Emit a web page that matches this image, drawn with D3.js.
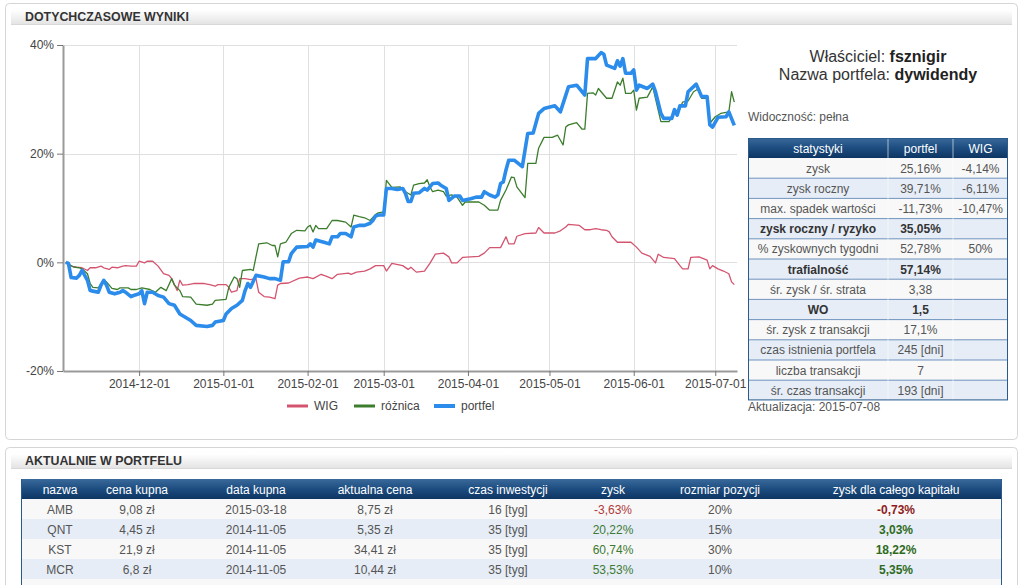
<!DOCTYPE html>
<html><head><meta charset="utf-8">
<script src="https://cdn.jsdelivr.net/npm/d3@7"></script>
<style>
html,body{margin:0;padding:0;background:#fff;}
body{width:1024px;height:585px;overflow:hidden;}
svg text{font-family:Arial,"Liberation Sans",sans-serif;}
</style></head><body>
<script>
// ---------------- DATA ----------------
const portfelDates = ["2014-11-04","2014-11-05","2014-11-06","2014-11-08","2014-11-09","2014-11-10","2014-11-11","2014-11-12","2014-11-13","2014-11-14","2014-11-16","2014-11-17","2014-11-18","2014-11-19","2014-11-20","2014-11-22","2014-11-24","2014-11-25","2014-11-26","2014-11-28","2014-11-29","2014-12-01","2014-12-02","2014-12-03","2014-12-04","2014-12-06","2014-12-08","2014-12-10","2014-12-12","2014-12-14","2014-12-16","2014-12-18","2014-12-20","2014-12-22","2014-12-26","2014-12-28","2014-12-29","2015-01-01","2015-01-02","2015-01-04","2015-01-06","2015-01-08","2015-01-09","2015-01-10","2015-01-11","2015-01-13","2015-01-16","2015-01-18","2015-01-20","2015-01-22","2015-01-23","2015-01-25","2015-01-26","2015-01-28","2015-02-01","2015-02-02","2015-02-03","2015-02-04","2015-02-07","2015-02-09","2015-02-10","2015-02-12","2015-02-13","2015-02-15","2015-02-17","2015-02-18","2015-02-20","2015-02-22","2015-02-24","2015-02-25","2015-02-26","2015-02-27","2015-03-01","2015-03-02","2015-03-04","2015-03-06","2015-03-08","2015-03-09","2015-03-10","2015-03-11","2015-03-12","2015-03-14","2015-03-16","2015-03-17","2015-03-19","2015-03-21","2015-03-22","2015-03-24","2015-03-25","2015-03-27","2015-03-29","2015-03-30","2015-04-02","2015-04-04","2015-04-06","2015-04-07","2015-04-09","2015-04-11","2015-04-12","2015-04-13","2015-04-14","2015-04-15","2015-04-16","2015-04-18","2015-04-21","2015-04-23","2015-04-25","2015-04-27","2015-04-29","2015-05-03","2015-05-05","2015-05-08","2015-05-11","2015-05-14","2015-05-15","2015-05-18","2015-05-20","2015-05-21","2015-05-22","2015-05-25","2015-05-26","2015-05-27","2015-05-28","2015-05-29","2015-05-31","2015-06-01","2015-06-02","2015-06-03","2015-06-06","2015-06-08","2015-06-09","2015-06-11","2015-06-12","2015-06-15","2015-06-16","2015-06-17","2015-06-18","2015-06-20","2015-06-21","2015-06-24","2015-06-26","2015-06-28","2015-06-29","2015-06-30","2015-07-02","2015-07-05","2015-07-06","2015-07-08"];
const portfelValues = [0.0,-0.2,-2.8,-2.9,-2.4,-1.5,-2.4,-3.3,-5.2,-5.3,-5.5,-4.2,-3.3,-4.2,-5.5,-5.8,-5.5,-5.2,-5.5,-6.3,-6.1,-5.8,-5.2,-7.6,-5.5,-5.5,-6.1,-6.4,-7.6,-7.9,-9.5,-10.1,-10.7,-11.6,-11.8,-11.6,-11.0,-10.7,-9.5,-8.5,-7.9,-7.0,-5.2,-3.9,-4.6,-2.4,-2.7,-3.0,-3.0,-3.3,0.1,0.1,1.6,2.8,2.9,3.4,2.8,4.1,3.7,3.4,4.7,4.7,5.3,5.3,4.7,6.5,6.8,6.8,7.2,7.7,8.5,8.7,8.7,13.6,13.6,13.4,13.6,12.7,11.2,11.2,12.7,12.8,13.6,13.3,14.5,14.6,14.2,13.6,11.4,12.2,12.2,11.4,11.7,12.0,12.0,13.0,12.4,12.0,12.4,14.5,14.8,17.0,18.8,18.8,17.6,23.7,23.8,27.4,28.3,28.8,27.7,32.3,32.6,30.8,37.5,37.5,38.6,38.3,36.3,35.7,37.1,36.1,37.5,34.8,34.8,35.4,31.7,32.6,32.0,32.8,31.4,27.4,26.5,26.5,28.1,27.1,28.8,28.8,31.4,32.8,30.5,30.5,25.3,24.9,26.7,26.8,27.7,25.2];

const roznicaDates = ["2014-11-04","2014-11-07","2014-11-09","2014-11-10","2014-11-12","2014-11-13","2014-11-14","2014-11-16","2014-11-18","2014-11-19","2014-11-21","2014-11-23","2014-11-24","2014-11-27","2014-11-28","2014-11-30","2014-12-02","2014-12-05","2014-12-07","2014-12-09","2014-12-11","2014-12-13","2014-12-14","2014-12-16","2014-12-17","2014-12-20","2014-12-22","2014-12-26","2014-12-28","2014-12-29","2015-01-02","2015-01-03","2015-01-05","2015-01-06","2015-01-07","2015-01-08","2015-01-11","2015-01-12","2015-01-13","2015-01-14","2015-01-17","2015-01-19","2015-01-20","2015-01-21","2015-01-22","2015-01-24","2015-01-26","2015-01-28","2015-01-31","2015-02-01","2015-02-02","2015-02-03","2015-02-04","2015-02-05","2015-02-08","2015-02-10","2015-02-12","2015-02-15","2015-02-17","2015-02-18","2015-02-20","2015-02-22","2015-02-24","2015-02-26","2015-02-27","2015-03-01","2015-03-02","2015-03-04","2015-03-07","2015-03-09","2015-03-11","2015-03-12","2015-03-14","2015-03-16","2015-03-17","2015-03-18","2015-03-19","2015-03-21","2015-03-23","2015-03-24","2015-03-26","2015-03-28","2015-03-30","2015-03-31","2015-04-05","2015-04-07","2015-04-09","2015-04-12","2015-04-13","2015-04-15","2015-04-17","2015-04-18","2015-04-19","2015-04-22","2015-04-23","2015-04-26","2015-04-27","2015-04-29","2015-05-02","2015-05-04","2015-05-06","2015-05-07","2015-05-08","2015-05-11","2015-05-13","2015-05-14","2015-05-15","2015-05-17","2015-05-18","2015-05-19","2015-05-20","2015-05-22","2015-05-24","2015-05-26","2015-05-27","2015-05-28","2015-05-29","2015-05-31","2015-06-01","2015-06-02","2015-06-03","2015-06-06","2015-06-08","2015-06-10","2015-06-11","2015-06-14","2015-06-16","2015-06-17","2015-06-19","2015-06-21","2015-06-23","2015-06-25","2015-06-26","2015-06-28","2015-06-29","2015-07-01","2015-07-03","2015-07-06","2015-07-07","2015-07-08"];
const roznicaValues = [0.0,-0.9,-1.0,-1.2,-2.1,-3.9,-4.6,-4.7,-3.2,-3.6,-4.8,-5.0,-4.7,-4.7,-5.0,-5.0,-4.7,-5.0,-5.5,-4.6,-5.2,-3.0,-4.2,-5.2,-6.3,-6.4,-7.7,-7.9,-7.7,-7.0,-6.8,-4.6,-2.7,-3.0,-4.6,-1.5,-1.3,-1.5,1.0,3.4,3.6,3.1,3.1,1.0,3.4,3.7,5.3,5.9,5.8,6.5,6.8,5.6,6.8,6.2,6.2,7.7,7.7,7.4,6.5,8.7,8.4,8.2,7.7,8.8,9.1,9.3,15.1,13.8,13.9,13.0,12.4,14.2,14.5,14.6,15.2,13.9,13.0,13.3,13.0,12.2,12.4,12.0,10.5,11.1,11.1,10.5,9.6,9.6,11.4,13.3,15.7,15.6,13.9,11.9,18.2,18.2,21.0,23.0,23.0,23.4,21.6,24.9,25.3,25.7,24.5,24.5,31.1,31.2,30.8,32.0,31.4,30.2,30.2,33.2,32.6,33.9,31.1,31.1,31.7,28.0,30.2,30.4,32.3,28.0,25.9,25.9,27.7,27.1,29.5,29.7,31.4,32.0,30.2,30.2,25.6,26.8,27.4,27.7,31.4,29.5];

const wigDates = ["2014-11-04","2014-11-06","2014-11-08","2014-11-10","2014-11-12","2014-11-13","2014-11-15","2014-11-17","2014-11-18","2014-11-20","2014-11-21","2014-11-23","2014-11-25","2014-11-26","2014-11-28","2014-11-30","2014-12-01","2014-12-03","2014-12-04","2014-12-06","2014-12-08","2014-12-10","2014-12-12","2014-12-13","2014-12-15","2014-12-16","2014-12-17","2014-12-19","2014-12-21","2014-12-25","2014-12-27","2014-12-29","2014-12-30","2015-01-02","2015-01-03","2015-01-04","2015-01-06","2015-01-07","2015-01-09","2015-01-11","2015-01-13","2015-01-14","2015-01-16","2015-01-18","2015-01-20","2015-01-21","2015-01-22","2015-01-25","2015-01-29","2015-02-01","2015-02-03","2015-02-06","2015-02-08","2015-02-10","2015-02-12","2015-02-16","2015-02-17","2015-02-19","2015-02-22","2015-02-24","2015-02-26","2015-03-01","2015-03-02","2015-03-04","2015-03-08","2015-03-10","2015-03-11","2015-03-13","2015-03-16","2015-03-18","2015-03-20","2015-03-23","2015-03-25","2015-03-26","2015-03-28","2015-03-30","2015-04-02","2015-04-05","2015-04-07","2015-04-09","2015-04-13","2015-04-15","2015-04-16","2015-04-18","2015-04-19","2015-04-22","2015-04-26","2015-04-27","2015-04-29","2015-05-03","2015-05-05","2015-05-07","2015-05-08","2015-05-12","2015-05-14","2015-05-16","2015-05-18","2015-05-20","2015-05-22","2015-05-23","2015-05-24","2015-05-26","2015-05-31","2015-06-02","2015-06-04","2015-06-07","2015-06-09","2015-06-10","2015-06-12","2015-06-16","2015-06-18","2015-06-19","2015-06-21","2015-06-22","2015-06-25","2015-06-28","2015-06-29","2015-06-30","2015-07-02","2015-07-04","2015-07-06","2015-07-07","2015-07-08"];
const wigValues = [0.0,-0.7,-0.9,-1.0,-1.5,-1.0,-1.0,-0.7,-1.0,-1.3,-0.9,-1.0,-0.7,-0.6,-0.7,-0.7,0.2,-0.1,0.2,0.2,-0.7,-2.1,-2.4,-3.0,-5.2,-3.3,-4.2,-4.1,-3.9,-3.9,-4.1,-4.4,-4.1,-4.1,-4.6,-5.5,-5.2,-3.0,-3.0,-3.2,-3.0,-5.5,-6.3,-6.4,-6.7,-4.2,-3.9,-3.8,-2.9,-2.7,-3.0,-2.2,-2.6,-3.0,-2.2,-2.0,-2.2,-1.8,-1.6,-1.2,-0.6,-0.6,-1.6,-0.2,-0.6,-1.3,-0.9,-1.8,-1.6,-0.2,1.5,1.7,1.0,-0.1,-0.1,0.9,1.0,1.1,1.7,2.7,2.7,4.7,3.4,3.4,4.8,5.3,5.4,6.4,5.4,5.4,5.8,6.5,7.0,6.8,6.0,6.0,6.2,6.0,5.9,5.6,4.7,3.7,3.7,2.8,1.7,1.1,-0.1,1.5,0.9,0.7,-0.6,-1.2,-1.2,0.9,1.0,0.4,-1.2,-0.6,-1.2,-1.6,-2.1,-3.6,-4.1];

const seriesNames = ["WIG","różnica","portfel"];
const yTickValues = [-20, 0, 20, 40];
const xDomain = ["2014-11-03","2015-07-09"];

const ownerName = "fsznigir";
const portfolioName = "dywidendy";
const visibility = "pełna";
const updateDate = "2015-07-08";

const statHeaders = ["statystyki","portfel","WIG"];
const statLabels = ["zysk","zysk roczny","max. spadek wartości","zysk roczny / ryzyko","% zyskownych tygodni","trafialność","śr. zysk / śr. strata","WO","śr. zysk z transakcji","czas istnienia portfela","liczba transakcji","śr. czas transakcji"];
const statPortfel = ["25,16%","39,71%","-11,73%","35,05%","52,78%","57,14%","3,38","1,5","17,1%","245 [dni]","7","193 [dni]"];
const statWig = ["-4,14%","-6,11%","-10,47%","","50%","","","","","","",""];
const statBoldRows = [3,5,7];

const posHeaders = ["nazwa","cena kupna","data kupna","aktualna cena","czas inwestycji","zysk","rozmiar pozycji","zysk dla całego kapitału"];
const posNames = ["AMB","QNT","KST","MCR"];
const posBuyPrice = ["9,08 zł","4,45 zł","21,9 zł","6,8 zł"];
const posBuyDate = ["2015-03-18","2014-11-05","2014-11-05","2014-11-05"];
const posCurPrice = ["8,75 zł","5,35 zł","34,41 zł","10,44 zł"];
const posWeeks = [16,35,35,35];
const posGain = [-3.63,20.22,60.74,53.53];
const posSize = [20,15,30,10];
const posCapGain = [-0.73,3.03,18.22,5.35];

// ---------------- LAYOUT ----------------
const W = 1024, H = 585;
const FONT = 'Arial,"Liberation Sans",sans-serif';
const parse = d3.timeParse("%Y-%m-%d");
const svg = d3.select("body").append("svg").attr("width", W).attr("height", H);
const defs = svg.append("defs");

function grad(id, stops){
  const g = defs.append("linearGradient").attr("id", id).attr("x1",0).attr("y1",0).attr("x2",0).attr("y2",1);
  stops.forEach(s => g.append("stop").attr("offset", s[0]).attr("stop-color", s[1]));
}
grad("hdr", [[0,"#ffffff"],[1,"#e4e4e4"]]);
grad("navy", [[0,"#3a6a9b"],[0.5,"#1d4d80"],[1,"#0d3563"]]);

// panels
svg.append("rect").attr("x",5.5).attr("y",3.5).attr("width",1012).attr("height",436).attr("rx",4)
  .attr("fill","#fff").attr("stroke","#d5d5d5");
svg.append("rect").attr("x",5.5).attr("y",447.5).attr("width",1012).attr("height",160).attr("rx",4)
  .attr("fill","#fff").attr("stroke","#d5d5d5");
[[10,"DOTYCHCZASOWE WYNIKI"],[454,"AKTUALNIE W PORTFELU"]].forEach(([y,t]) => {
  svg.append("rect").attr("x",11).attr("y",y).attr("width",1001).attr("height",14).attr("fill","url(#hdr)");
  svg.append("line").attr("x1",11).attr("x2",1012).attr("y1",y+14.5).attr("y2",y+14.5).attr("stroke","#d8d8d8");
  svg.append("text").attr("x",25).attr("y",y+11).attr("font-size",12.4).attr("font-weight","bold")
    .attr("fill","#333").text(t);
});

// ---------------- CHART ----------------
const x = d3.scaleTime().domain(xDomain.map(parse)).range([63, 737]);
const y = d3.scaleLinear().domain([-20, 40]).range([371, 45]);
const g = svg.append("g");

const monthTicks = d3.timeMonth.range(d3.timeMonth.ceil(x.domain()[0]), x.domain()[1]);
g.append("g").selectAll("line").data(monthTicks).join("line")
  .attr("x1", d => Math.round(x(d)) + 0.5).attr("x2", d => Math.round(x(d)) + 0.5)
  .attr("y1", y(40)).attr("y2", y(-20)).attr("stroke", "#e0e0e0");
g.append("g").selectAll("line").data(yTickValues.filter(v => v > -20)).join("line")
  .attr("x1", 63).attr("x2", 737)
  .attr("y1", d => Math.round(y(d)) + 0.5).attr("y2", d => Math.round(y(d)) + 0.5).attr("stroke", "#e0e0e0");

const yAxis = g.append("g").attr("transform","translate(63,0)")
  .call(d3.axisLeft(y).tickValues(yTickValues).tickSize(6).tickSizeOuter(0).tickFormat(d => d + "%"));
const xAxis = g.append("g").attr("transform","translate(0,371)")
  .call(d3.axisBottom(x).tickValues(monthTicks).tickSize(5).tickSizeOuter(0).tickFormat(d3.timeFormat("%Y-%m-%d")));
[yAxis, xAxis].forEach(a => {
  a.select(".domain").attr("stroke","#9a9a9a").attr("stroke-width",2);
  a.selectAll(".tick line").attr("stroke","#777");
  a.selectAll(".tick text").attr("fill","#444").attr("font-size",12).attr("font-family",FONT);
});

const series = [
  {name: seriesNames[0], dates: wigDates, values: wigValues, color: "#d4546f", width: 1.3},
  {name: seriesNames[1], dates: roznicaDates, values: roznicaValues, color: "#3b7d2c", width: 1.3},
  {name: seriesNames[2], dates: portfelDates, values: portfelValues, color: "#2b8ceb", width: 3.6}
];
const line = d3.line().x(d => x(d.date)).y(d => y(d.value));
series.forEach(s => {
  const pts = s.dates.map((d, i) => ({date: parse(d), value: s.values[i]}));
  g.append("path").datum(pts).attr("d", line).attr("fill","none")
    .attr("stroke", s.color).attr("stroke-width", s.width).attr("stroke-linejoin","round");
});

// legend
const legendX = [287, 354, 434];
const leg = g.append("g");
series.forEach((s, i) => {
  leg.append("line").attr("x1", legendX[i]).attr("x2", legendX[i] + 21).attr("y1", 406).attr("y2", 406)
    .attr("stroke", s.color).attr("stroke-width", i === 2 ? 4 : 3);
  leg.append("text").attr("x", legendX[i] + 27).attr("y", 410).attr("font-size", 12).attr("fill","#444").text(s.name);
});

// ---------------- RIGHT INFO ----------------
const info = svg.append("g");
const t1 = info.append("text").attr("x", 878).attr("y", 62).attr("text-anchor","middle").attr("font-size",16).attr("fill","#333");
t1.append("tspan").text("Właściciel: ");
t1.append("tspan").attr("font-weight","bold").attr("fill","#222").text(ownerName);
const t2 = info.append("text").attr("x", 878).attr("y", 80).attr("text-anchor","middle").attr("font-size",16).attr("fill","#333");
t2.append("tspan").text("Nazwa portfela: ");
t2.append("tspan").attr("font-weight","bold").attr("fill","#222").text(portfolioName);
info.append("text").attr("x",748).attr("y",121).attr("font-size",12).attr("fill","#555").text("Widoczność: " + visibility);
info.append("text").attr("x",748).attr("y",411).attr("font-size",12).attr("fill","#555").text("Aktualizacja: " + updateDate);

// stats table
const sx0 = 748, sx1 = 1008, sCols = [748, 888, 953, 1008], sTop = 138, sHead = 20, sRow = 20.2;
const st = svg.append("g");
st.append("rect").attr("x", sx0).attr("y", sTop).attr("width", sx1 - sx0).attr("height", sHead).attr("fill","url(#navy)");
statLabels.forEach((lab, i) => {
  const ry = sTop + sHead + i * sRow;
  st.append("rect").attr("x", sx0).attr("y", ry).attr("width", sx1 - sx0).attr("height", sRow)
    .attr("fill", i % 2 ? "#e6edf7" : "#f8f8f8");
});
statLabels.forEach((lab, i) => {
  const ry = sTop + sHead + (i + 1) * sRow;
  if (i < statLabels.length - 1)
    st.append("line").attr("x1", sx0).attr("x2", sx1).attr("y1", ry).attr("y2", ry).attr("stroke","#6f93bd").attr("stroke-width",1);
});
[1,2].forEach(c => st.append("line").attr("x1", sCols[c]).attr("x2", sCols[c]).attr("y1", sTop).attr("y2", sTop + sHead + 12 * sRow)
  .attr("stroke","#ffffff").attr("stroke-opacity",0.6));
st.append("rect").attr("x", sx0 + 0.5).attr("y", sTop + 0.5).attr("width", sx1 - sx0 - 1).attr("height", sHead + 12 * sRow - 1)
  .attr("fill","none").attr("stroke","#2a5a8c");
const colC = c => (sCols[c] + sCols[c + 1]) / 2;
statHeaders.forEach((h, c) => st.append("text").attr("x", colC(c)).attr("y", sTop + 14.5).attr("text-anchor","middle")
  .attr("font-size",12).attr("fill","#fff").text(h));
statLabels.forEach((lab, i) => {
  const cy = sTop + sHead + i * sRow + 14.5;
  const bold = statBoldRows.includes(i);
  [lab, statPortfel[i], statWig[i]].forEach((t, c) => {
    if (!t) return;
    st.append("text").attr("x", colC(c)).attr("y", cy).attr("text-anchor","middle").attr("font-size",12)
      .attr("font-weight", bold && c < 2 ? "bold" : "normal").attr("fill", bold ? "#333" : "#555").text(t);
  });
});

// ---------------- POSITIONS TABLE ----------------
const px0 = 21, px1 = 1002, pTop = 479, pHead = 20, pRow = 20;
const pCenters = [60, 137, 256, 375, 508, 613, 720, 896];
const pt = svg.append("g");
pt.append("rect").attr("x", px0).attr("y", pTop).attr("width", px1 - px0).attr("height", pHead).attr("fill","url(#navy)");
const nRows = posNames.length + 1;
for (let i = 0; i < nRows; i++) {
  pt.append("rect").attr("x", px0).attr("y", pTop + pHead + i * pRow).attr("width", px1 - px0).attr("height", pRow)
    .attr("fill", i % 2 ? "#e6edf7" : "#f8f8f8");
  pt.append("line").attr("x1", px0).attr("x2", px1).attr("y1", pTop + pHead + (i + 1) * pRow + 0.5)
    .attr("y2", pTop + pHead + (i + 1) * pRow + 0.5).attr("stroke","#2f5f90");
}
pt.append("line").attr("x1", px0 + 0.5).attr("x2", px0 + 0.5).attr("y1", pTop).attr("y2", H).attr("stroke","#2a5a8c");
pt.append("line").attr("x1", px1 - 0.5).attr("x2", px1 - 0.5).attr("y1", pTop).attr("y2", H).attr("stroke","#2a5a8c");
posHeaders.forEach((h, c) => pt.append("text").attr("x", pCenters[c]).attr("y", pTop + 14.5).attr("text-anchor","middle")
  .attr("font-size",12).attr("fill","#fff").text(h));
const pct = v => d3.format(".2f")(v).replace(".", ",").replace("−","-") + "%";
posNames.forEach((n, i) => {
  const cy = pTop + pHead + i * pRow + 14.5;
  const cells = [n, posBuyPrice[i], posBuyDate[i], posCurPrice[i], posWeeks[i] + " [tyg]", pct(posGain[i]), posSize[i] + "%", pct(posCapGain[i])];
  cells.forEach((t, c) => {
    let fill = "#555", weight = "normal";
    if (c === 5) fill = posGain[i] < 0 ? "#b03a3a" : "#3d7a32";
    if (c === 7) { fill = posCapGain[i] < 0 ? "#8e1b1b" : "#2e6b22"; weight = "bold"; }
    pt.append("text").attr("x", pCenters[c]).attr("y", cy).attr("text-anchor","middle").attr("font-size",12)
      .attr("font-weight", weight).attr("fill", fill).text(t);
  });
});
</script>
</body></html>
